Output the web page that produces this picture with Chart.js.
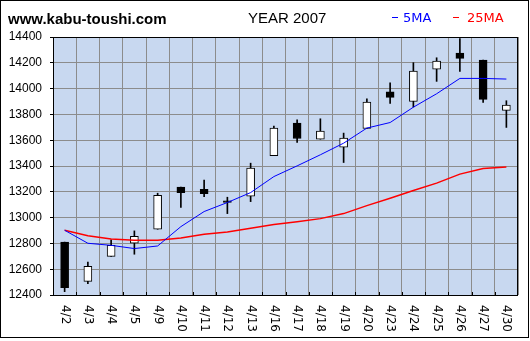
<!DOCTYPE html>
<html>
<head>
<meta charset="utf-8">
<script src="https://cdn.jsdelivr.net/npm/chart.js@4.4.1/dist/chart.umd.min.js"></script>
<style>
  body { margin: 0; background: #fff; }
  canvas { display: block; }
</style>
</head>
<body>
<canvas id="stockChart" width="530" height="341"></canvas>
<script>
const days = ["4/2", "4/3", "4/4", "4/5", "4/9", "4/10", "4/11", "4/12", "4/13", "4/16",
  "4/17", "4/18", "4/19", "4/20", "4/23", "4/24", "4/25", "4/26", "4/27", "4/30"];

const openPrice = [12810, 12506, 12700, 12801, 12910, 13236, 13220, 13130, 13166, 13481,
  13732, 13608, 13546, 13691, 13975, 13900, 14151, 14276, 14221, 13831];
const closePrice = [12457, 12622, 12785, 12855, 13173, 13194, 13186, 13117, 13383, 13694,
  13613, 13670, 13616, 13895, 13932, 14136, 14213, 14234, 13916, 13872];
const highPrice = [12810, 12656, 12827, 12897, 13189, 13236, 13290, 13158, 13422, 13709,
  13758, 13766, 13655, 13921, 14045, 14201, 14239, 14387, 14221, 13906];
const lowPrice = [12426, 12488, 12700, 12716, 12910, 13078, 13163, 13031, 13124, 13481,
  13582, 13608, 13427, 13691, 13885, 13857, 14056, 14133, 13893, 13699];

const ma5 = [12902, 12801, 12785, 12760, 12780, 12930, 13047, 13117, 13194, 13318,
  13401, 13487, 13577, 13694, 13737, 13856, 13960, 14079, 14079, 14074];
const ma25 = [12902, 12860, 12835, 12824, 12824, 12842, 12871, 12889, 12917, 12946,
  12967, 12992, 13031, 13093, 13150, 13210, 13267, 13337, 13381, 13393];

const yTicks = [12400, 12600, 12800, 13000, 13200, 13400, 13600, 13800, 14000, 14200, 14400];

const wicks = days.map((d, i) => [lowPrice[i], highPrice[i]]);
const bodies = days.map((d, i) => [openPrice[i], closePrice[i]]);
const bodyColors = days.map((d, i) => closePrice[i] >= openPrice[i] ? "#ffffff" : "#000000");

// background, frame, header and rotated day labels
const decorations = {
  id: "decorations",
  beforeDraw(chart) {
    const c = chart.ctx;
    const a = chart.chartArea;
    c.save();
    c.fillStyle = "#ffffff";
    c.fillRect(0, 0, chart.width, chart.height);
    c.fillStyle = "#c8d8f0";
    c.fillRect(a.left, a.top, a.right - a.left, a.bottom - a.top);
    c.restore();
  },
  afterDraw(chart) {
    const c = chart.ctx;
    const a = chart.chartArea;
    const x = chart.scales.x;
    c.save();

    c.strokeStyle = "#000";
    c.lineWidth = 1;
    c.strokeRect(0.5, 0.5, 528, 337);
    c.strokeRect(a.left + 0.5, a.top + 0.5, a.right - a.left - 1, a.bottom - a.top);

    // small ticks on the bottom edge
    c.beginPath();
    for (let i = 1; i < days.length; i++) {
      const px = Math.round(a.left + (a.right - a.left) * i / days.length) + 0.5;
      c.moveTo(px, a.bottom);
      c.lineTo(px, a.bottom - 3);
    }
    c.stroke();

    c.fillStyle = "#000";
    c.textBaseline = "alphabetic";
    c.font = "bold 15px 'Liberation Sans'";
    c.fillText("www.kabu-toushi.com", 8, 24);
    c.font = "15px 'Liberation Sans'";
    c.fillText("YEAR 2007", 248, 23);

    c.font = "13px 'DejaVu Sans'";
    c.fillStyle = "#0000ff";
    c.fillRect(392, 17, 6, 1);
    c.fillText("5MA", 403, 22);
    c.fillStyle = "#ff0000";
    c.fillRect(453, 17, 6, 1);
    c.fillText("25MA", 467, 22);

    c.fillStyle = "#000";
    c.font = "12px 'DejaVu Sans'";
    c.textAlign = "left";
    c.textBaseline = "middle";
    days.forEach((d, i) => {
      c.save();
      c.translate(x.getPixelForValue(i), 305);
      c.rotate(Math.PI / 2);
      c.fillText(d, 0, 0);
      c.restore();
    });
    c.restore();
  }
};

new Chart(document.getElementById("stockChart").getContext("2d"), {
  type: "bar",
  data: {
    labels: days,
    datasets: [
      {
        type: "line",
        label: "5MA",
        data: ma5,
        borderColor: "#0000ff",
        borderWidth: 1,
        pointRadius: 0,
        tension: 0,
        order: 0
      },
      {
        type: "line",
        label: "25MA",
        data: ma25,
        borderColor: "#ff0000",
        borderWidth: 1.5,
        pointRadius: 0,
        tension: 0,
        order: 0
      },
      {
        label: "body",
        data: bodies,
        backgroundColor: bodyColors,
        borderColor: "#000",
        borderWidth: 1,
        borderSkipped: false,
        barThickness: 8,
        grouped: false,
        order: 1
      },
      {
        label: "wick",
        data: wicks,
        backgroundColor: "#000",
        barThickness: 1,
        grouped: false,
        order: 2
      }
    ]
  },
  options: {
    responsive: false,
    animation: false,
    layout: { padding: { top: 37, right: 12, left: 0, bottom: 0 } },
    plugins: {
      legend: { display: false },
      tooltip: { enabled: false }
    },
    scales: {
      x: {
        offset: true,
        grid: { color: "#8c8c8c", offset: true, drawTicks: false },
        border: { display: false },
        ticks: { display: false },
        afterFit(scale) { scale.height = 46; }
      },
      y: {
        min: 12400,
        max: 14400,
        afterBuildTicks(scale) { scale.ticks = yTicks.map(v => ({ value: v })); },
        grid: { color: "#8c8c8c", tickLength: 3, tickColor: "#000" },
        border: { display: false },
        ticks: {
          color: "#000",
          padding: 8,
          font: { family: "'Liberation Sans'", size: 12 },
          callback: (v) => String(v)
        },
        afterFit(scale) { scale.width = 53; }
      }
    }
  },
  plugins: [decorations]
});
</script>
</body>
</html>
